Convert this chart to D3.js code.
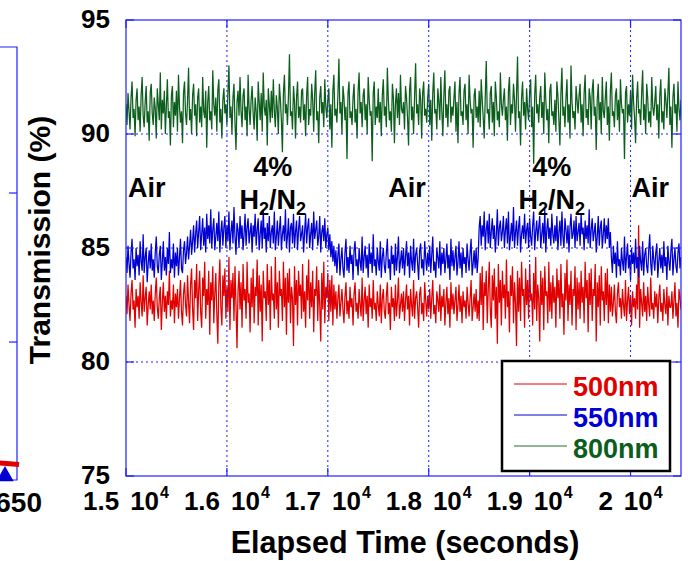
<!DOCTYPE html>
<html>
<head>
<meta charset="utf-8">
<script src="https://cdn.jsdelivr.net/npm/d3@7"></script>
<style>
  body { margin: 0; background: #fff; }
  svg { display: block; font-family: Arial, "Liberation Sans", Helvetica, sans-serif; font-weight: bold; }
</style>
</head>
<body>
<svg id="chart" width="688" height="561"></svg>
<script>
// ── Data (one sample every 10 s from 15000 s) ────────────────────────────────
const T0 = 15000;
const DT = 10;

const red500 = [
  82.9,82.1,83.4,82.5,81.8,83.0,83.6,82.3,82.7,81.5,83.2,82.4,82.9,81.9,83.5,82.6,82.0,83.8,82.2,82.8,83.3,81.6,82.5,83.1,82.3,
  83.4,82.1,82.7,81.8,83.0,83.7,82.4,81.9,82.8,83.3,81.4,82.6,83.5,82.2,82.9,81.9,83.1,82.5,84.0,82.0,82.7,82.3,83.4,81.7,83.0,
  82.4,83.2,81.9,82.8,83.6,82.2,81.6,83.0,83.5,82.5,82.0,83.8,82.6,81.7,83.4,84.1,82.3,81.4,83.6,82.8,84.3,81.8,83.1,84.0,82.2,
  81.5,83.7,82.9,84.4,81.9,83.2,82.5,84.0,81.2,83.5,82.7,84.2,81.7,83.0,83.9,82.1,80.8,83.4,84.5,82.4,81.6,83.8,82.9,84.1,81.9,
  83.3,82.2,84.6,81.4,83.6,82.8,83.9,81.8,84.2,82.5,80.6,83.1,84.0,82.3,83.5,81.5,84.3,82.7,83.2,81.9,84.4,82.6,83.0,81.3,83.7,
  82.4,84.1,81.7,83.3,82.9,84.5,81.6,83.8,82.2,83.4,80.9,84.0,82.8,83.1,81.8,84.3,82.5,83.6,81.4,84.2,82.7,83.0,81.9,84.6,82.3,
  83.5,81.5,84.0,82.9,83.2,81.8,84.4,82.4,83.7,81.2,83.9,82.6,84.1,81.7,83.3,82.8,80.7,84.2,82.5,83.6,81.6,84.0,82.9,83.4,81.9,
  84.3,82.2,83.1,81.5,83.8,82.7,84.5,81.9,83.5,82.4,84.0,81.3,83.2,82.9,84.2,81.8,83.6,82.5,80.9,83.9,82.3,84.4,81.7,83.3,82.8,
  83.9,81.8,83.6,82.2,83.8,81.6,83.4,82.3,83.1,81.9,82.8,83.4,82.0,82.6,83.2,82.3,81.7,82.9,83.5,82.1,82.7,81.9,83.3,82.4,82.8,
  81.6,83.0,83.5,82.2,82.6,81.9,83.2,82.5,82.0,83.7,81.8,82.7,83.3,82.1,82.9,81.5,83.4,82.4,82.8,81.9,83.6,82.3,82.6,81.8,83.1,
  82.5,82.0,83.4,81.7,82.8,83.2,82.2,81.9,82.9,83.5,82.1,82.6,81.4,83.3,82.4,82.8,81.8,83.4,82.0,82.7,83.7,81.9,82.5,83.0,82.2,
  83.1,81.8,82.7,83.4,82.3,82.9,81.6,83.2,82.5,82.0,83.6,81.9,82.8,83.1,82.4,81.5,83.0,83.3,82.1,82.6,81.8,83.5,82.7,82.0,82.9,
  82.3,83.2,81.9,82.8,83.6,82.1,82.5,81.7,83.1,82.7,82.2,83.4,81.8,82.9,82.4,83.2,81.6,82.6,83.3,82.1,82.8,81.5,83.5,82.3,83.0,
  82.1,82.7,83.3,81.8,82.5,83.4,82.2,82.9,81.7,83.1,82.4,82.7,81.9,83.3,82.6,82.0,82.8,83.6,81.8,82.4,83.0,82.2,83.2,81.9,82.7,
  81.8,83.9,82.5,84.2,81.4,83.5,82.9,84.0,81.7,83.2,84.4,82.3,81.5,83.8,82.7,84.1,81.9,83.3,80.8,84.3,82.6,83.6,81.6,84.0,82.8,
  83.4,81.9,84.5,82.4,83.1,81.3,83.8,82.9,84.2,81.7,83.5,82.6,80.7,84.0,82.2,83.7,81.8,84.4,82.9,83.2,81.5,84.1,82.5,83.6,81.9,
  84.3,82.7,83.0,81.6,83.9,82.3,84.6,81.8,83.4,82.8,80.9,84.0,82.5,83.7,81.4,84.2,82.9,83.1,81.7,84.4,82.2,83.5,81.9,83.8,82.6,
  83.3,81.5,84.1,82.8,83.6,81.9,84.3,82.4,83.0,81.2,83.9,82.7,84.5,81.8,83.4,82.5,84.0,81.6,83.2,82.9,84.2,81.4,83.7,82.3,83.5,
  81.9,84.0,82.6,83.3,81.7,84.4,82.8,83.6,81.3,83.9,82.5,84.1,81.8,83.2,82.9,84.3,80.9,83.5,82.4,83.8,81.6,84.2,82.7,83.1,81.8,
  83.9,82.5,84.1,81.7,83.4,82.2,83.3,82.0,82.6,83.4,82.2,81.7,83.0,83.5,82.4,82.8,81.9,83.2,82.5,82.0,83.6,81.8,82.7,83.3,82.1,
  82.9,81.6,83.1,82.4,82.8,81.9,83.4,82.3,86.0,81.5,83.2,82.6,82.0,83.5,82.2,82.9,81.8,83.3,82.5,82.0,83.7,82.3,82.6,81.9,83.1,
  82.4,83.0,81.7,82.8,83.4,82.2,82.6,81.8,83.2,82.5,82.1,83.3,81.6,82.9,82.4,82.4,83.1,81.9,82.7,83.5,82.0,82.6,81.5,83.2,82.8,
  82.3
];

const blue550 = [
  84.6,83.9,85.1,84.3,83.7,84.8,85.4,84.1,84.5,83.6,85.0,84.2,84.7,83.8,85.3,84.4,84.0,85.6,83.9,84.6,85.0,83.5,84.3,84.9,84.1,
  85.2,84.0,84.5,83.7,84.8,85.5,84.2,83.9,84.7,85.1,83.6,84.4,85.3,84.0,84.6,83.8,85.0,84.3,85.7,83.9,84.5,84.1,85.2,83.7,84.8,
  84.2,85.0,83.8,84.6,85.4,84.1,83.9,84.9,85.3,84.3,84.8,85.5,84.5,85.1,85.8,84.7,85.3,86.0,84.8,85.6,86.2,85.0,85.7,86.4,84.9,
  85.6,86.3,85.1,85.9,84.8,86.5,85.4,86.0,85.2,86.7,85.0,85.8,86.3,84.9,85.5,86.1,85.3,86.6,84.8,85.7,86.2,85.1,85.9,86.4,85.0,
  86.0,85.3,86.6,84.9,85.7,86.2,85.2,86.8,85.5,84.7,86.1,85.8,85.0,86.4,85.4,86.0,84.9,85.6,86.5,85.1,85.9,86.3,85.2,85.7,86.1,
  84.8,86.0,85.5,86.5,85.1,85.8,86.3,84.9,85.6,86.2,85.0,86.7,85.4,85.9,84.8,86.1,85.3,86.4,85.0,85.7,86.0,85.2,86.6,84.9,85.5,
  86.2,85.1,85.8,86.4,84.9,85.6,86.0,85.3,86.7,85.0,85.5,86.3,84.8,85.9,86.1,85.2,86.5,85.0,85.7,86.2,84.9,85.8,86.4,85.3,85.6,
  86.0,84.8,85.7,86.5,85.2,85.9,86.3,85.0,85.6,86.1,84.9,86.6,85.4,85.8,86.2,85.1,85.5,86.4,84.8,85.7,86.0,85.3,86.3,85.0,85.6,
  85.9,84.9,85.6,84.6,85.3,84.4,85.1,84.2,84.9,83.9,84.7,85.2,83.8,84.5,85.0,84.1,83.7,84.8,85.4,84.0,84.6,83.9,85.1,84.3,84.7,
  83.6,84.9,85.3,84.2,84.5,83.8,85.0,84.4,84.0,85.5,83.9,84.6,85.1,84.1,84.7,83.7,85.2,84.3,84.8,83.9,85.6,84.2,84.5,83.8,85.0,
  84.4,84.0,85.3,83.7,84.6,85.0,84.2,83.9,84.8,85.4,84.1,84.5,83.6,85.1,84.3,84.7,83.8,85.2,84.0,84.6,85.5,83.9,84.4,84.9,84.1,
  85.0,83.8,84.6,85.3,84.2,84.8,83.7,85.1,84.4,84.0,85.4,83.9,84.7,85.0,84.3,83.6,84.9,85.2,84.1,84.5,83.8,85.3,84.6,84.0,84.8,
  84.2,85.1,83.9,84.7,85.5,84.0,84.4,83.7,85.0,84.6,84.1,85.3,83.8,84.8,84.3,85.0,83.9,84.5,85.2,84.1,84.7,83.6,85.4,84.2,84.9,
  84.0,84.6,85.1,83.8,84.4,85.3,84.1,84.8,83.7,85.0,84.3,84.6,83.9,85.2,84.5,84.0,84.8,85.4,83.8,84.3,84.9,84.1,85.0,83.9,84.6,
  85.9,86.4,85.1,86.0,85.5,86.6,84.9,85.8,86.2,85.2,86.5,85.0,85.7,86.3,85.4,86.0,84.8,85.6,86.7,85.1,85.9,86.2,85.3,85.7,86.4,
  85.0,85.8,86.3,85.2,86.6,84.9,85.5,86.1,85.3,86.8,85.0,85.7,86.2,85.1,85.9,86.4,84.8,85.6,86.0,85.4,86.5,85.2,85.8,86.1,85.0,
  86.3,85.5,85.1,86.0,86.6,84.9,85.7,86.2,85.3,85.9,86.4,85.0,85.6,86.1,85.2,86.7,84.8,85.8,86.3,85.4,85.9,85.1,86.5,85.6,85.2,
  86.0,85.3,86.4,84.9,85.7,86.2,85.1,86.6,85.5,85.0,86.3,85.8,85.2,86.0,84.8,85.9,86.5,85.4,85.6,86.2,85.0,86.4,85.3,85.7,86.1,
  85.1,86.5,85.6,85.9,84.9,86.2,85.4,86.0,85.2,86.7,85.0,85.8,86.3,85.3,85.7,86.1,84.8,85.5,86.4,85.1,85.9,86.2,85.0,85.6,86.3,
  85.2,86.0,85.4,86.3,85.0,85.7,84.6,83.9,85.1,84.3,84.8,83.7,85.3,84.2,84.5,83.8,85.0,84.4,84.0,85.5,83.9,84.6,85.2,84.1,84.7,
  83.6,85.0,84.3,84.8,83.9,85.4,84.1,84.6,83.7,85.1,84.4,84.0,85.3,83.8,84.7,85.0,84.2,83.9,84.9,85.6,84.3,83.8,85.1,84.5,84.0,
  84.8,85.2,83.7,84.4,85.0,84.1,84.7,83.9,85.3,84.2,84.6,83.6,85.1,84.4,84.0,84.9,85.4,83.8,84.5,85.0,84.2,83.9,84.8,85.2,84.1,
  84.6
];

const green800 = [
  91.3,90.4,91.8,91.0,90.2,91.6,92.3,90.7,91.1,89.9,91.5,92.0,90.6,91.2,90.1,91.7,92.5,90.8,90.3,91.4,92.1,90.5,91.0,89.7,91.8,
  92.2,90.9,90.4,91.6,91.1,89.8,92.0,91.3,90.6,92.7,90.2,91.5,90.9,91.9,90.0,91.2,92.4,90.7,91.0,89.5,91.7,92.1,90.3,91.4,90.8,
  91.9,90.1,92.6,91.2,90.5,91.0,89.6,91.8,92.3,90.9,90.4,91.5,92.9,90.6,91.1,90.0,91.7,92.2,90.8,91.3,89.9,91.6,92.0,90.5,91.2,
  90.3,92.5,91.0,90.7,91.9,89.4,91.4,92.1,90.6,91.0,90.2,92.8,91.3,90.8,91.6,90.1,91.9,92.4,90.5,91.1,89.8,91.5,92.0,90.9,91.3,
  90.4,91.8,93.0,90.7,91.2,90.0,91.6,92.2,90.5,89.3,91.4,91.9,90.8,92.5,91.0,90.3,91.7,92.0,90.6,91.2,89.9,92.6,91.1,90.4,91.5,
  92.1,90.9,90.2,91.6,91.0,89.7,92.3,91.4,90.6,91.8,90.1,92.7,91.2,90.8,91.5,89.5,92.0,91.3,90.5,91.9,90.7,92.4,91.0,90.3,91.7,
  91.1,90.0,92.2,91.5,90.6,89.2,91.8,92.6,90.9,91.3,90.4,91.7,93.5,90.8,91.0,90.2,92.1,91.4,89.8,91.6,92.3,90.7,91.2,90.5,91.9,
  92.0,90.6,91.3,89.9,91.7,92.5,90.4,91.1,90.8,92.2,91.5,90.1,91.8,92.8,90.6,91.0,89.6,91.6,92.1,90.9,91.4,90.3,92.4,91.2,90.7,
  91.5,92.0,90.2,91.3,89.4,91.9,92.6,90.8,91.1,90.5,91.7,93.3,90.9,91.4,90.0,92.1,91.6,90.6,91.2,88.9,91.8,92.3,90.7,91.0,90.4,
  91.6,92.2,90.5,91.1,89.8,91.9,92.7,90.9,91.4,90.3,91.7,92.0,90.6,91.3,90.0,92.5,91.5,90.8,91.0,88.8,91.8,92.3,90.4,91.2,90.7,
  92.0,90.5,91.4,89.9,91.7,92.4,90.8,91.2,90.3,92.9,91.5,90.6,91.0,90.1,92.2,91.6,89.6,91.3,92.0,90.7,91.8,90.4,92.6,91.1,90.9,
  91.4,90.2,92.1,91.6,90.7,89.5,91.9,92.5,90.6,91.2,90.0,91.7,93.1,90.9,91.3,90.4,92.0,91.5,89.8,91.8,92.3,90.8,91.1,90.5,91.6,
  92.2,90.4,91.5,89.7,91.8,92.7,90.9,91.1,90.2,92.0,91.4,90.6,92.5,91.0,89.9,91.7,92.8,90.7,91.3,90.3,91.9,92.1,90.5,91.2,90.8,
  91.6,92.3,90.1,91.4,89.6,91.8,92.5,90.8,91.0,90.4,91.9,92.2,90.6,91.3,90.0,92.6,91.5,90.9,91.1,89.4,91.7,92.0,90.7,91.2,90.5,
  91.9,90.3,92.4,91.5,90.7,89.8,91.6,93.2,90.9,91.1,90.2,91.8,92.1,90.5,91.4,89.9,92.3,91.6,90.6,91.0,90.3,92.7,91.3,90.8,91.5,
  92.0,90.6,91.2,89.7,91.9,92.5,90.4,91.3,90.9,92.2,91.5,90.1,91.7,93.4,90.7,91.0,89.5,91.6,92.3,90.8,91.4,90.2,92.0,91.1,90.6,
  91.8,92.4,90.3,91.2,88.7,91.7,92.6,90.9,91.3,90.5,91.6,92.1,90.7,91.4,90.0,92.7,91.5,90.6,91.1,89.6,91.9,92.2,90.8,91.0,90.4,
  91.5,90.1,92.3,91.7,90.6,89.5,91.8,92.9,90.8,91.2,90.3,91.6,92.4,90.5,91.3,89.8,93.0,91.4,90.7,91.0,90.2,92.1,91.5,90.9,91.7,
  92.2,90.5,91.3,89.9,91.8,92.6,90.7,91.1,90.4,92.0,91.6,90.2,91.9,92.4,90.8,91.2,89.3,91.5,92.2,90.6,91.4,90.0,92.5,91.0,90.7,
  91.6,92.3,90.4,91.2,89.7,91.9,92.7,90.8,91.0,90.3,91.7,92.0,90.6,91.5,90.1,92.4,91.3,90.9,91.1,88.9,91.8,92.1,90.5,91.3,90.8,
  91.9,90.2,92.6,91.4,90.7,89.6,91.5,92.3,90.9,91.1,90.4,91.8,92.8,90.6,91.3,90.0,92.2,91.6,90.5,91.0,90.3,92.5,91.2,90.8,91.4,
  92.1,90.6,91.3,89.8,91.7,92.4,90.5,91.0,90.2,92.0,91.5,90.7,91.8,92.9,90.4,91.2,89.4,91.6,92.2,90.9,91.3,90.1,92.3,91.1,90.6,
  91.5
];

const yTicks = [75, 80, 85, 90, 95];
const xTicks = [15000, 16000, 17000, 18000, 19000, 20000];
const xTickMantissa = ['1.5', '1.6', '1.7', '1.8', '1.9', '2'];
const legendLabels = ['500nm', '550nm', '800nm'];

// gas annotations: [time, transmission]
const airMarks = [[15020, 87.25], [17600, 87.25], [20010, 87.25]];
const h2Marks = [[16455, 88.15], [19220, 88.15]];

// cropped neighbour panel on the far left
const leftWave = [641, 651];
const leftRed = [0.094, 0.089];
const leftBlueMarker = [[644, 0.05]];
const leftTicks = [0.5, 1.0];

// ── Layout ─────────────────────────────────────────────────────────────────
const PLOT = { left: 126, right: 681, top: 20, bottom: 476 };
const COLORS = { red: '#e00000', blue: '#0000d2', green: '#0b5e1c', axis: '#1f1fff' };

const svg = d3.select('#chart');

const x = d3.scaleLinear().domain([15000, 20500]).range([PLOT.left, PLOT.right]);
const y = d3.scaleLinear().domain([75, 95]).range([PLOT.bottom, PLOT.top]);

svg.append('defs').append('clipPath').attr('id', 'plot-clip')
  .append('rect')
  .attr('x', PLOT.left).attr('y', PLOT.top)
  .attr('width', PLOT.right - PLOT.left).attr('height', PLOT.bottom - PLOT.top);

// ── Left neighbour panel (cropped) ─────────────────────────────────────────
const lx = d3.scaleLinear().domain([600, 650]).range([-83, 17]);
const ly = d3.scaleLinear().domain([0.037, 1.49]).range([480, 47]);
const leftG = svg.append('g');
leftG.append('path')
  .attr('d', `M0,${ly(1.49)}H${lx(650)}V${ly(0.037)}H0`)
  .attr('fill', 'none').attr('stroke', COLORS.axis).attr('stroke-width', 1.2);
leftG.selectAll('.ltick').data(leftTicks).enter().append('line')
  .attr('x1', lx(650) - 8).attr('x2', lx(650))
  .attr('y1', d => ly(d)).attr('y2', d => ly(d))
  .attr('stroke', COLORS.axis).attr('stroke-width', 1.2);
leftG.append('path')
  .datum(leftWave.map((w, i) => [w, leftRed[i]]))
  .attr('d', d3.line().x(d => lx(d[0])).y(d => ly(d[1])))
  .attr('stroke', COLORS.red).attr('stroke-width', 5).attr('fill', 'none');
leftG.selectAll('.lmark').data(leftBlueMarker).enter().append('path')
  .attr('transform', d => `translate(${lx(d[0])},${ly(d[1])})`)
  .attr('d', d3.symbol(d3.symbolTriangle, 130))
  .attr('fill', COLORS.blue);
leftG.append('text')
  .attr('x', 42).attr('y', 512).attr('text-anchor', 'end')
  .attr('font-size', 28).text('650');

// ── Main data ───────────────────────────────────────────────────────────────
const line = d3.line().x((d, i) => x(T0 + i * DT)).y(d => y(d));
const dataG = svg.append('g').attr('clip-path', 'url(#plot-clip)');
[[red500, COLORS.red], [blue550, COLORS.blue], [green800, COLORS.green]].forEach(([vals, col]) => {
  dataG.append('path')
    .datum(vals)
    .attr('d', line)
    .attr('fill', 'none')
    .attr('stroke', col)
    .attr('stroke-width', 1.25)
    .attr('stroke-linejoin', 'bevel');
});

// ── Grid (drawn over data) ──────────────────────────────────────────────────
const gridG = svg.append('g')
  .attr('stroke', COLORS.axis).attr('stroke-width', 1).attr('stroke-dasharray', '2,3');
gridG.selectAll('.gx').data(xTicks.slice(1)).enter().append('line')
  .attr('x1', d => x(d)).attr('x2', d => x(d))
  .attr('y1', PLOT.top).attr('y2', PLOT.bottom);
gridG.selectAll('.gy').data(yTicks.slice(1, -1)).enter().append('line')
  .attr('x1', PLOT.left).attr('x2', PLOT.right)
  .attr('y1', d => y(d)).attr('y2', d => y(d));

// ── Frame and inward ticks ─────────────────────────────────────────────────
const axisG = svg.append('g').attr('stroke', COLORS.axis).attr('stroke-width', 1.2);
axisG.append('rect')
  .attr('x', PLOT.left).attr('y', PLOT.top)
  .attr('width', PLOT.right - PLOT.left).attr('height', PLOT.bottom - PLOT.top)
  .attr('fill', 'none');
const TICK = 8;
xTicks.forEach(t => {
  axisG.append('line').attr('x1', x(t)).attr('x2', x(t)).attr('y1', PLOT.bottom).attr('y2', PLOT.bottom - TICK);
  axisG.append('line').attr('x1', x(t)).attr('x2', x(t)).attr('y1', PLOT.top).attr('y2', PLOT.top + TICK);
});
yTicks.forEach(v => {
  axisG.append('line').attr('x1', PLOT.left).attr('x2', PLOT.left + TICK).attr('y1', y(v)).attr('y2', y(v));
  axisG.append('line').attr('x1', PLOT.right).attr('x2', PLOT.right - TICK).attr('y1', y(v)).attr('y2', y(v));
});

// ── Tick labels ─────────────────────────────────────────────────────────────
svg.append('g').selectAll('text').data(yTicks).enter().append('text')
  .attr('x', 110).attr('y', d => y(d) + 8)
  .attr('text-anchor', 'end').attr('font-size', 26)
  .text(d => d);

xTicks.forEach((t, i) => {
  const lbl = svg.append('text')
    .attr('x', x(t)).attr('y', 510)
    .attr('text-anchor', 'middle').attr('font-size', 26);
  lbl.append('tspan').text(xTickMantissa[i]);
  lbl.append('tspan').attr('dx', 11).text('10');
  lbl.append('tspan').attr('dx', 1).attr('dy', -12).attr('font-size', 16).text('4');
});

// ── Axis titles ─────────────────────────────────────────────────────────────
svg.append('text')
  .attr('x', 405).attr('y', 553)
  .attr('text-anchor', 'middle').attr('font-size', 30.5)
  .text('Elapsed Time (seconds)');
svg.append('text')
  .attr('transform', 'translate(50,240) rotate(-90)')
  .attr('text-anchor', 'middle').attr('font-size', 30)
  .text('Transmission (%)');

// ── Gas annotations ────────────────────────────────────────────────────────
airMarks.forEach(([t, v]) => {
  svg.append('text')
    .attr('x', x(t)).attr('y', y(v))
    .attr('font-size', 27).text('Air');
});
h2Marks.forEach(([t, v]) => {
  svg.append('text')
    .attr('x', x(t)).attr('y', y(v))
    .attr('text-anchor', 'middle').attr('font-size', 27).text('4%');
  const h = svg.append('text')
    .attr('x', x(t)).attr('y', y(v) + 33)
    .attr('text-anchor', 'middle').attr('font-size', 27);
  h.append('tspan').text('H');
  h.append('tspan').attr('dy', 6).attr('font-size', 18).text('2');
  h.append('tspan').attr('dy', -6).text('/N');
  h.append('tspan').attr('dy', 6).attr('font-size', 18).text('2');
});

// ── Legend ─────────────────────────────────────────────────────────────────
const legendColors = [COLORS.red, COLORS.blue, COLORS.green];
const legendLineColors = [COLORS.red, COLORS.blue, '#6a9e72'];
const legG = svg.append('g').attr('transform', 'translate(502,361)');
legG.append('rect')
  .attr('width', 168).attr('height', 110)
  .attr('fill', '#fff').attr('stroke', '#000').attr('stroke-width', 2.5);
legendLabels.forEach((name, i) => {
  const ly0 = 23 + i * 31;
  legG.append('line')
    .attr('x1', 12).attr('x2', 65).attr('y1', ly0).attr('y2', ly0)
    .attr('stroke', legendLineColors[i]).attr('stroke-width', i === 2 ? 1.6 : 1);
  legG.append('text')
    .attr('x', 71).attr('y', ly0 + 12)
    .attr('font-size', 27).attr('fill', legendColors[i])
    .text(name);
});
</script>
</body>
</html>
